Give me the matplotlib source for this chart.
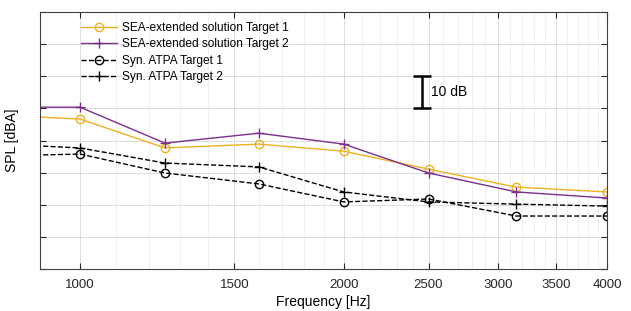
import numpy as np
import matplotlib
matplotlib.use('Agg')
import matplotlib.pyplot as plt
from matplotlib.ticker import FixedLocator, NullFormatter

plt.rcParams['font.family'] = ['Liberation Sans', 'DejaVu Sans']

# third-octave band centres [Hz]
freq = [800, 1000, 1250, 1600, 2000, 2500, 3150, 4000]

# SPL values [dBA]
sea_t1 = [68.0, 66.7, 57.7, 58.9, 56.7, 51.1, 45.5, 44.0]
sea_t2 = [70.4, 70.4, 59.2, 62.3, 58.9, 49.9, 44.0, 42.1]
atpa_t1 = [55.2, 55.8, 49.9, 46.5, 40.9, 41.8, 36.5, 36.5]
atpa_t2 = [59.0, 57.7, 53.0, 51.8, 44.0, 40.9, 40.2, 39.6]

xticks = [1000, 1500, 2000, 2500, 3000, 3500, 4000]

fig = plt.figure(figsize=(6.31, 3.11), dpi=100)
ax = fig.add_axes([0.0634, 0.135, 0.899, 0.826])

ax.plot(freq, sea_t1, '-o', color='#EDB120', lw=1.0, ms=6, mfc='none', mew=1.0,
        label='SEA-extended solution Target 1')
ax.plot(freq, sea_t2, '-+', color='#7E2F8E', lw=1.0, ms=7, mew=1.0,
        label='SEA-extended solution Target 2')
ax.plot(freq, atpa_t1, '--o', color='black', lw=1.0, ms=6, mfc='none', mew=1.0,
        label='Syn. ATPA Target 1')
ax.plot(freq, atpa_t2, '--+', color='black', lw=1.0, ms=7, mew=1.0,
        label='Syn. ATPA Target 2')

ax.set_xscale('log')
ax.set_xlim(900, 4000)
ax.set_ylim(20, 100)

ax.xaxis.set_major_locator(FixedLocator(xticks))
ax.set_xticklabels([str(t) for t in xticks])
minor = [f for f in range(900, 4001, 100) if f not in xticks]
ax.xaxis.set_minor_locator(FixedLocator(minor))
ax.xaxis.set_minor_formatter(NullFormatter())
ax.set_yticks(np.arange(20, 101, 10))
ax.set_yticklabels([])

ax.grid(True, which='major', color='#dddddd', lw=0.7, ls='-')
ax.grid(True, which='minor', axis='x', color='#d0d0d0', lw=0.6, ls=':')
ax.set_axisbelow(True)

ax.tick_params(which='major', direction='in', top=True, right=True, length=4,
               labelsize=9.5, colors='#262626', pad=7)
ax.tick_params(which='minor', direction='in', length=0)
for s in ax.spines.values():
    s.set_color('#404040')
    s.set_linewidth(0.8)

# 10 dB scale bar
ax.errorbar([2460], [75], yerr=[5], color='black', lw=1.8, capsize=6.5, capthick=1.8)
ax.text(2515, 75, '10 dB', fontsize=10, va='center', ha='left')

ax.set_xlabel('Frequency [Hz]', fontsize=10, labelpad=3)
ax.set_ylabel('SPL [dBA]', fontsize=10, labelpad=8)

ax.legend(loc='upper left', bbox_to_anchor=(0.06, 0.99), frameon=False, fontsize=8.6,
          handlelength=3.0, handletextpad=0.4, labelspacing=0.38, borderaxespad=0.2)

fig.savefig('out.png', dpi=100)
